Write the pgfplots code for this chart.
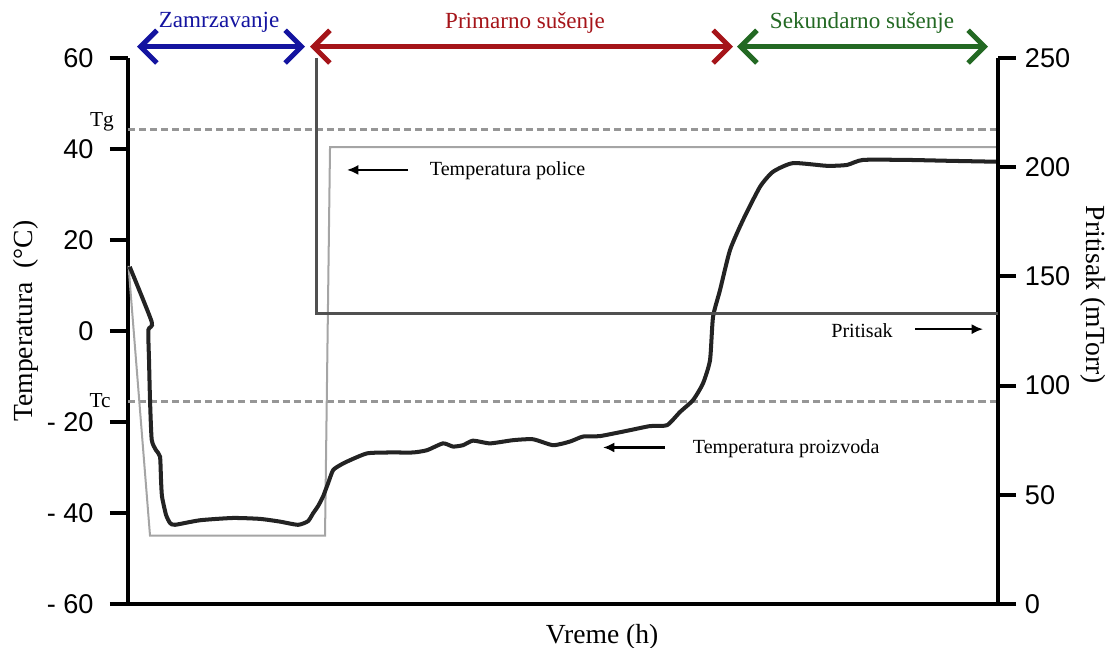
\documentclass[border=0pt]{standalone}
\usepackage{fontspec}
\setmainfont{Liberation Serif}
\setsansfont{Liberation Sans}
\usepackage{pgfplots}
\pgfplotsset{compat=1.18}
\usetikzlibrary{arrows.meta}

\definecolor{phaseblue}{RGB}{20,20,160}
\definecolor{phasered}{RGB}{165,20,25}
\definecolor{phasegreen}{RGB}{35,105,35}
\definecolor{shelfgray}{RGB}{165,165,165}
\definecolor{pressgray}{RGB}{80,80,80}
\definecolor{dashgray}{RGB}{150,150,150}
\definecolor{prodblack}{RGB}{35,35,35}

\pgfplotsset{
  cycleaxis/.style={
    scale only axis, width=346.6pt, height=217.5pt,
    at={(51pt,17.5pt)}, anchor=south west,
    xmin=0, xmax=87, xtick=\empty,
    axis line style={line width=1.6pt, black},
    major tick style={line width=1.6pt, black},
    /pgf/number format/assume math mode=true,
    ticklabel style={font=\sffamily\fontsize{10.8}{12}\selectfont},
  }
}

\begin{document}
\begin{tikzpicture}
\useasboundingbox (0,0) rectangle (441pt,258.1pt);

% temperature (left scale)
\begin{axis}[cycleaxis,
  axis x line*=bottom, axis y line*=left,
  tick align=outside, major tick length=7.2pt,
  ymin=-60, ymax=60, ytick={-60,-40,-20,0,20,40,60},
  yticklabels={- 60,- 40,- 20,0,20,40,60},
  yticklabel style={xshift=-3pt},
  clip=false,
  xlabel={Vreme (h)},
  xlabel style={font=\fontsize{11}{13}\selectfont, at={(axis description cs:0.545,-0.061)}, anchor=center},
  ylabel={Temperatura\ \ (°C)},
  ylabel style={font=\fontsize{11}{13}\selectfont, at={(axis description cs:-0.118,0.518)}, anchor=center},
]
% Tg and Tc levels
\addplot[dashgray, line width=1.2pt, dash pattern=on 2.8pt off 1.6pt] coordinates {(0,44.2) (87,44.2)};
\addplot[dashgray, line width=1.2pt, dash pattern=on 2.8pt off 1.6pt] coordinates {(0,-15.4) (87,-15.4)};

% shelf temperature
\addplot[shelfgray, line width=0.8pt] coordinates {
  (0.05,14.3) (2.2,-45.0) (19.7,-45.0) (20.2,40.4) (87,40.4)};

% product temperature
\addplot[prodblack, line width=1.6pt, smooth, tension=0.35] coordinates {
  (0.17,14.1) (2.37,2.0) (2.03,0.2) (2.1,-6.4) (2.2,-15.2) (2.37,-23.9)
  (2.8,-26.2) (3.2,-27.6) (3.3,-32.7) (3.4,-36.4) (3.8,-40.4) (4.2,-42.2)
  (4.7,-42.6) (7.2,-41.6) (10.5,-41.1) (13.2,-41.3) (15.2,-41.9) (17.0,-42.6)
  (18.0,-41.8) (18.5,-40.1) (19.0,-38.5) (19.5,-36.4) (20.0,-33.5) (20.5,-30.6)
  (21.2,-29.5) (21.9,-28.7) (23.9,-26.9) (26.2,-26.7) (28.5,-26.7) (29.9,-26.2)
  (31.5,-24.7) (32.5,-25.4) (33.5,-25.1) (34.5,-24.1) (36.2,-24.7) (38.5,-24.0)
  (40.5,-23.8) (42.5,-25.1) (44.2,-24.3) (45.5,-23.2) (47.2,-23.1) (50.2,-21.8)
  (52.2,-20.9) (53.9,-20.7) (55.2,-17.8) (56.5,-15.2) (57.5,-11.5) (58.2,-6.4)
  (58.5,3.1) (59.2,9.0) (60.2,17.8) (61.5,24.4) (63.2,31.7) (64.5,35.0)
  (66.5,36.9) (69.9,36.3) (71.9,36.5) (73.5,37.6) (77.9,37.6) (82.2,37.4)
  (86.9,37.2)};

% Tg / Tc labels
\node[font=\fontsize{8.5}{10}\selectfont, anchor=center] at (axis cs:-2.6,45.9) {Tg};
\node[font=\fontsize{8.5}{10}\selectfont, anchor=center] at (axis cs:-2.8,-15.4) {Tc};

% curve annotations
\draw[-{Latex[length=4.5pt,width=4pt]}, line width=0.85pt] (axis cs:28.0,35.4) -- (axis cs:21.9,35.4);
\node[font=\fontsize{8}{10}\selectfont, anchor=west] at (axis cs:29.3,35.2) {Temperatura police};
\draw[-{Latex[length=4.5pt,width=4pt]}, line width=0.85pt] (axis cs:53.7,-25.6) -- (axis cs:47.5,-25.6);
\node[font=\fontsize{8}{10}\selectfont, anchor=west] at (axis cs:55.6,-25.8) {Temperatura proizvoda};
\node[font=\fontsize{8}{10}\selectfont, anchor=center] at (axis cs:73.4,0.0) {Pritisak};
\draw[-{Latex[length=4.5pt,width=4pt]}, line width=0.85pt] (axis cs:78.7,0.4) -- (axis cs:85.5,0.4);

% process phases
\draw[phaseblue, line width=2pt, {Straight Barb[length=6.5pt,width=13pt]}-{Straight Barb[length=6.5pt,width=13pt]}]
  (axis cs:0.9,62.5) -- (axis cs:17.7,62.5);
\draw[phasered, line width=2pt, {Straight Barb[length=6.5pt,width=13pt]}-{Straight Barb[length=6.5pt,width=13pt]}]
  (axis cs:18.2,62.5) -- (axis cs:60.5,62.5);
\draw[phasegreen, line width=2pt, {Straight Barb[length=6.5pt,width=13pt]}-{Straight Barb[length=6.5pt,width=13pt]}]
  (axis cs:60.9,62.5) -- (axis cs:86.0,62.5);
\node[phaseblue, font=\fontsize{9.2}{11}\selectfont] at (axis cs:9.1,67.8) {Zamrzavanje};
\node[phasered, font=\fontsize{9.2}{11}\selectfont] at (axis cs:39.7,67.8) {Primarno sušenje};
\node[phasegreen, font=\fontsize{9.2}{11}\selectfont] at (axis cs:73.4,67.8) {Sekundarno sušenje};
\end{axis}

% chamber pressure (right scale)
\begin{axis}[cycleaxis,
  axis x line=none, axis y line*=right,
  tick align=outside, major tick length=7.2pt,
  ymin=0, ymax=250, ytick={0,50,100,150,200,250},
  ylabel={Pritisak (mTorr)},
  ylabel style={font=\fontsize{11}{13}\selectfont, at={(axis description cs:1.109,0.566)}, anchor=center, rotate=180},
]
\addplot[pressgray, line width=1.2pt] coordinates {
  (18.8,250) (18.8,133) (87,133)};
\end{axis}
\end{tikzpicture}
\end{document}
